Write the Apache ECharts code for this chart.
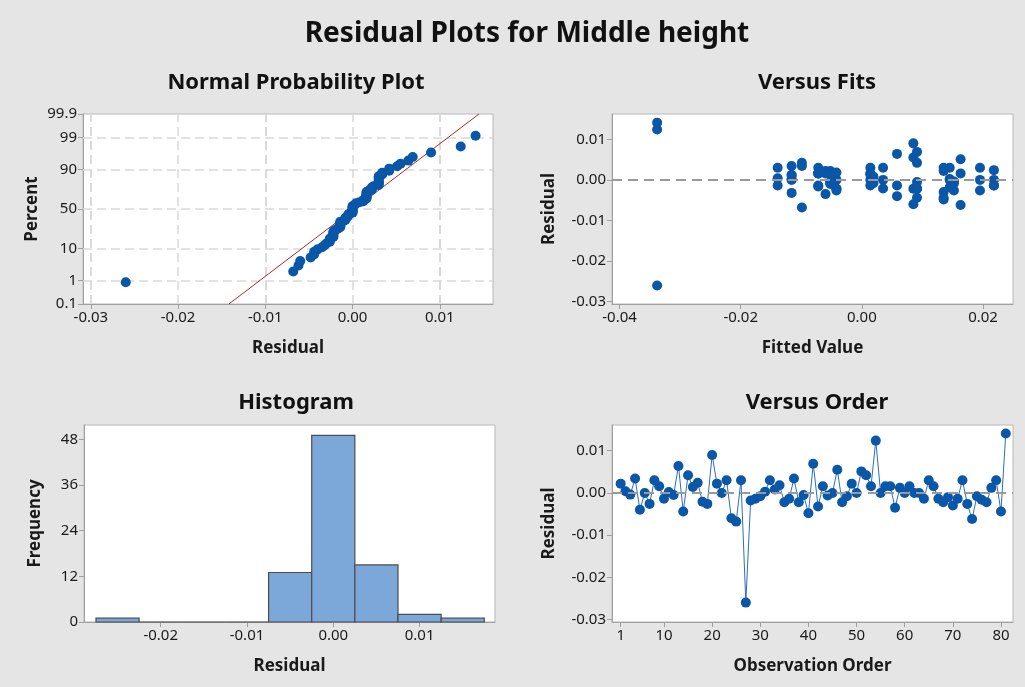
<!DOCTYPE html>
<html><head><meta charset="utf-8">
<script src="https://cdn.jsdelivr.net/npm/echarts@6/dist/echarts.min.js"></script>
<style>html,body{margin:0;padding:0;background:#e5e5e5}#c{width:1025px;height:687px}</style>
</head><body><div id="c"></div>
<script>
// ---- data ----
const residuals = [
  0.0022, 0.0004, -0.0004, 0.0034, -0.0040, 0.0000, -0.0026, 0.0030, 0.0016, -0.0014,
  0.0002, -0.0005, 0.0064, -0.0044, 0.0042, 0.0014, 0.0024, -0.0021, -0.0026, 0.0090,
  0.0022, 0.0000, 0.0030, -0.0060, -0.0068, 0.0030, -0.0260, -0.0018, -0.0014, -0.0008,
  0.0003, 0.0030, 0.0008, 0.0018, -0.0022, -0.0014, 0.0034, -0.0022, -0.0005, -0.0048,
  0.0069, -0.0032, 0.0016, -0.0006, 0.0000, 0.0055, -0.0022, -0.0008, 0.0022, 0.0000,
  0.0051, 0.0042, 0.0016, 0.0124, 0.0000, 0.0016, 0.0016, -0.0035, 0.0012, 0.0000,
  0.0016, 0.0000, 0.0000, -0.0014, 0.0030, 0.0016, -0.0014, -0.0022, -0.0010, -0.0030,
  -0.0014, 0.0030, -0.0026, -0.0062, -0.0008, -0.0016, -0.0022, 0.0012, 0.0030, -0.0044,
  0.0141
];
const fittedValues = [
  -0.0052, -0.0139, 0.0152, -0.0116, 0.0058, -0.0042, 0.0195, 0.0195, -0.0072, -0.0139,
  0.0145, -0.0052, 0.0058, 0.0091, 0.0091, 0.0014, 0.0218, 0.0035, -0.0042, 0.0085,
  -0.0060, 0.0035, 0.0014, 0.0085, -0.0099, 0.0145, -0.0338, 0.0145, 0.0218, 0.0019,
  -0.0116, 0.0035, 0.0019, -0.0042, 0.0091, -0.0072, -0.0099, 0.0085, 0.0091, 0.0135,
  0.0091, -0.0116, -0.0052, -0.0052, 0.0014, 0.0085, -0.0042, 0.0152, 0.0135, 0.0195,
  0.0163, -0.0099, 0.0014, -0.0338, 0.0218, -0.0072, 0.0163, -0.0060, -0.0116, -0.0116,
  -0.0072, 0.0019, 0.0145, 0.0058, 0.0135, -0.0060, 0.0014, 0.0091, -0.0052, 0.0135,
  0.0218, -0.0139, 0.0152, 0.0163, -0.0052, -0.0072, -0.0042, -0.0116, -0.0072, 0.0135,
  -0.0338
];
const histBinCenters = [-0.025, -0.020, -0.015, -0.010, -0.005, 0.000, 0.005, 0.010, 0.015];
const histCounts = [1, 0, 0, 0, 13, 49, 15, 2, 1];
const histBinWidth = 0.005;
const probTicks = [0.1, 1, 10, 50, 90, 99, 99.9];
const probGridLines = [1, 10, 50, 90, 99];
const nppXTicks = [-0.03, -0.02, -0.01, 0, 0.01];
const nppXGrid = [-0.03, -0.025, -0.02, -0.015, -0.01, -0.005, 0, 0.005, 0.01, 0.015];
const fitsXTicks = [-0.04, -0.02, 0, 0.02];
const residTicks = [-0.03, -0.02, -0.01, 0, 0.01];
const histXTicks = [-0.02, -0.01, 0, 0.01];
const histYTicks = [0, 12, 24, 36, 48];
const orderTicks = [1, 10, 20, 30, 40, 50, 60, 70, 80];

// ---- normal probability scale ----
function invNorm(p){
  const a=[-3.969683028665376e+01,2.209460984245205e+02,-2.759285104469687e+02,1.383577518672690e+02,-3.066479806614716e+01,2.506628277459239e+00];
  const b=[-5.447609879822406e+01,1.615858368580409e+02,-1.556989798598866e+02,6.680131188771972e+01,-1.328068155288572e+01];
  const c=[-7.784894002430293e-03,-3.223964580411365e-01,-2.400758277161838e+00,-2.549732539343734e+00,4.374664141464968e+00,2.938163982698783e+00];
  const d=[7.784695709041462e-03,3.224671290700398e-01,2.445134137142996e+00,3.754408661907416e+00];
  const pl=0.02425, ph=1-pl; let q,r;
  if(p<pl){q=Math.sqrt(-2*Math.log(p));return (((((c[0]*q+c[1])*q+c[2])*q+c[3])*q+c[4])*q+c[5])/((((d[0]*q+d[1])*q+d[2])*q+d[3])*q+1);}
  if(p>ph){q=Math.sqrt(-2*Math.log(1-p));return -(((((c[0]*q+c[1])*q+c[2])*q+c[3])*q+c[4])*q+c[5])/((((d[0]*q+d[1])*q+d[2])*q+d[3])*q+1);}
  q=p-0.5;r=q*q;return (((((a[0]*r+a[1])*r+a[2])*r+a[3])*r+a[4])*r+a[5])*q/(((((b[0]*r+b[1])*r+b[2])*r+b[3])*r+b[4])*r+1);
}
const n = residuals.length;
const sorted = residuals.slice().sort((x,y)=>x-y);
const nppPoints = sorted.map((v,i)=>[v, invNorm((i+1-0.3)/(n+0.4))]);
const mean = residuals.reduce((s,v)=>s+v,0)/n;
const sd = Math.sqrt(residuals.reduce((s,v)=>s+(v-mean)*(v-mean),0)/(n-1));
const probZ = probTicks.map(p=>invNorm(p/100));
const zMin = probZ[0], zMax = probZ[probZ.length-1];
const fitLine = [[mean+zMin*sd, zMin],[mean+zMax*sd, zMax]];

const fitsPoints = residuals.map((r,i)=>[fittedValues[i], r]);
const orderPoints = residuals.map((r,i)=>[i+1, r]);
const histData = histBinCenters.map((c,i)=>[c-histBinWidth/2, c+histBinWidth/2, histCounts[i]]);

// ---- styles ----
const FONT = '"Noto Sans", "Open Sans", sans-serif';
const BLUE = '#0a56a8';
const labelStyle = {color:'#1a1a1a', fontSize:15, fontFamily:FONT, margin:6, showMinLabel:true, showMaxLabel:true, hideOverlap:false};
const nameStyle = {color:'#1a1a1a', fontSize:17, fontFamily:FONT, fontWeight:'bold'};
function fmt2(v){ return (Math.abs(v)<1e-9?0:v).toFixed(2); }
function axis(o){
  return Object.assign({
    type:'value', nameLocation:'middle', nameTextStyle:nameStyle,
    splitLine:{show:false},
    axisLine:{show:true, onZero:false, lineStyle:{color:'#a0a0a0', width:1}},
    axisTick:{show:true, length:5, lineStyle:{color:'#a0a0a0'}}
  }, o);
}
const zeroLine = {silent:true, symbol:'none', label:{show:false},
  lineStyle:{color:'#9a9a9a', type:[10,6], width:2}, data:[{yAxis:0}]};
const subTitle = {fontSize:22, fontWeight:'bold', color:'#111', fontFamily:FONT};

const option = {
  backgroundColor:'#e5e5e5',
  animation:false,
  title:[
    {text:'Residual Plots for Middle height', left:522, top:15, textAlign:'center',
     textStyle:{fontSize:28, fontWeight:'bold', color:'#111', fontFamily:FONT}},
    {text:'Normal Probability Plot', left:291, top:67, textAlign:'center', textStyle:subTitle},
    {text:'Versus Fits', left:812, top:67, textAlign:'center', textStyle:subTitle},
    {text:'Histogram', left:291, top:387, textAlign:'center', textStyle:subTitle},
    {text:'Versus Order', left:812, top:387, textAlign:'center', textStyle:subTitle}
  ],
  grid:[
    {left:83, top:114, width:410, height:190, show:true, backgroundColor:'#fff', borderColor:'#b8b8b8', borderWidth:1},
    {left:612, top:114, width:401, height:190, show:true, backgroundColor:'#fff', borderColor:'#b8b8b8', borderWidth:1},
    {left:84, top:425, width:411, height:197, show:true, backgroundColor:'#fff', borderColor:'#b8b8b8', borderWidth:1},
    {left:612, top:425, width:401, height:197, show:true, backgroundColor:'#fff', borderColor:'#b8b8b8', borderWidth:1}
  ],
  xAxis:[
    axis({gridIndex:0, min:-0.0309, max:0.0161, name:'Residual', nameGap:36,
      axisLabel:Object.assign({customValues:nppXTicks, formatter:fmt2}, labelStyle),
      axisTick:{show:true, length:5, customValues:nppXTicks, lineStyle:{color:'#a0a0a0'}}}),
    axis({gridIndex:1, min:-0.04125, max:0.02495, name:'Fitted Value', nameGap:36,
      axisLabel:Object.assign({customValues:fitsXTicks, formatter:fmt2}, labelStyle),
      axisTick:{show:true, length:5, customValues:fitsXTicks, lineStyle:{color:'#a0a0a0'}}}),
    axis({gridIndex:2, min:-0.02889, max:0.01874, name:'Residual', nameGap:36,
      axisLabel:Object.assign({customValues:histXTicks, formatter:fmt2}, labelStyle),
      axisTick:{show:true, length:5, customValues:histXTicks, lineStyle:{color:'#a0a0a0'}}}),
    axis({gridIndex:3, min:-0.8, max:82.5, name:'Observation Order', nameGap:36,
      axisLabel:Object.assign({customValues:orderTicks}, labelStyle),
      axisTick:{show:true, length:5, customValues:orderTicks, lineStyle:{color:'#a0a0a0'}}})
  ],
  yAxis:[
    axis({gridIndex:0, min:zMin, max:zMax, name:'Percent', nameGap:42,
      axisLabel:Object.assign({customValues:probZ, formatter:function(v){
        let best=0; probZ.forEach((z,i)=>{ if(Math.abs(z-v)<Math.abs(probZ[best]-v)) best=i; });
        return String(probTicks[best]); }}, labelStyle),
      axisTick:{show:true, length:5, customValues:probZ, lineStyle:{color:'#a0a0a0'}}}),
    axis({gridIndex:1, min:-0.03057, max:0.01623, name:'Residual', nameGap:54,
      axisLabel:Object.assign({customValues:residTicks, formatter:fmt2}, labelStyle),
      axisTick:{show:true, length:5, customValues:residTicks, lineStyle:{color:'#a0a0a0'}}}),
    axis({gridIndex:2, min:0, max:51.75, name:'Frequency', nameGap:40,
      axisLabel:Object.assign({customValues:histYTicks}, labelStyle),
      axisTick:{show:true, length:5, customValues:histYTicks, lineStyle:{color:'#a0a0a0'}}}),
    axis({gridIndex:3, min:-0.0306, max:0.0161, name:'Residual', nameGap:54,
      axisLabel:Object.assign({customValues:residTicks, formatter:fmt2}, labelStyle),
      axisTick:{show:true, length:5, customValues:residTicks, lineStyle:{color:'#a0a0a0'}}})
  ],
  series:[
    {type:'line', xAxisIndex:0, yAxisIndex:0, data:fitLine, symbol:'none', z:3,
     lineStyle:{color:'#b0282a', width:1},
     markLine:{silent:true, symbol:'none', label:{show:false}, z:1,
       lineStyle:{color:'#d9d9d9', type:[9,5], width:1.5},
       data:[...nppXGrid.map(v=>({xAxis:v})), ...probGridLines.map(p=>({yAxis:invNorm(p/100)}))]}},
    {type:'scatter', xAxisIndex:0, yAxisIndex:0, data:nppPoints, symbolSize:10, z:4,
     itemStyle:{color:BLUE, opacity:1}},
    {type:'scatter', xAxisIndex:1, yAxisIndex:1, data:fitsPoints, symbolSize:10, z:4,
     itemStyle:{color:BLUE, opacity:1}, markLine:zeroLine},
    {type:'custom', xAxisIndex:2, yAxisIndex:2, data:histData,
     renderItem:function(params, api){
       const p0 = api.coord([api.value(0), api.value(2)]);
       const p1 = api.coord([api.value(1), 0]);
       return {type:'rect', shape:{x:p0[0], y:p0[1], width:p1[0]-p0[0], height:p1[1]-p0[1]},
         style:{fill:'#7ba7d9', stroke:'#4d4d4d', lineWidth:1.2}};
     }},
    {type:'line', xAxisIndex:3, yAxisIndex:3, data:orderPoints, symbol:'circle', symbolSize:10,
     lineStyle:{color:'#2a6fbe', width:1}, itemStyle:{color:BLUE, opacity:1}, z:4,
     markLine:zeroLine}
  ]
};
echarts.init(document.getElementById('c'), null, {renderer:'canvas'}).setOption(option);
</script>
</body></html>
